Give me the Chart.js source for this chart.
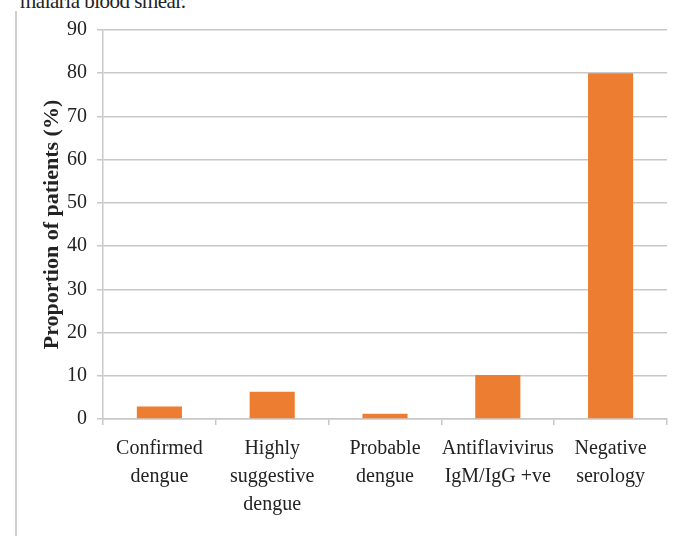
<!DOCTYPE html>
<html>
<head>
<meta charset="utf-8">
<script src="https://cdn.jsdelivr.net/npm/chart.js@4.4.0/dist/chart.umd.min.js"></script>
<style>
  html, body { margin: 0; padding: 0; background: #fff; }
  #wrap { position: relative; width: 683px; height: 536px; overflow: hidden; }
  #caption { position: absolute; left: 20px; top: -11px; font: 21px "Liberation Serif", serif; color: #222; white-space: nowrap; letter-spacing: -0.5px; }
  #edge { position: absolute; left: 15px; top: 11px; width: 0; height: 530px; border-left: 2px solid #d0d0d0; }
  canvas { position: absolute; left: 0; top: 0; }
</style>
</head>
<body>
<div id="wrap">
  <div id="caption">malaria blood smear.</div>
  <div id="edge"></div>
  <canvas id="myChart" width="683" height="536"></canvas>
</div>
<script>
const categories = [
  ['Confirmed', 'dengue'],
  ['Highly', 'suggestive', 'dengue'],
  ['Probable', 'dengue'],
  ['Antiflavivirus', 'IgM/IgG +ve'],
  ['Negative', 'serology']
];
const proportions = [2.9, 6.3, 1.2, 10.2, 80];
const yTicks = [0, 10, 20, 30, 40, 50, 60, 70, 80, 90];

const ctx = document.getElementById('myChart');
new Chart(ctx, {
  type: 'bar',
  data: {
    labels: categories,
    datasets: [{
      data: proportions,
      backgroundColor: '#ED7D31',
      categoryPercentage: 1,
      barPercentage: 0.4
    }]
  },
  options: {
    responsive: false,
    animation: false,
    layout: { padding: { left: 20, right: 16, top: 30, bottom: 0 } },
    plugins: { legend: { display: false }, tooltip: { enabled: false } },
    scales: {
      x: {
        afterFit: function(scale) { scale.height = 117; },
        grid: { offset: true, drawOnChartArea: false, tickLength: 6, color: '#c8c8c8', lineWidth: 1.5 },
        border: { color: '#c8c8c8', width: 1.5 },
        ticks: {
          color: '#222', padding: 10,
          font: { family: 'Liberation Serif', size: 20, lineHeight: 1.4 },
          maxRotation: 0, autoSkip: false
        }
      },
      y: {
        min: 0, max: 90,
        afterFit: function(scale) { scale.width = 83; },
        afterBuildTicks: function(scale) { scale.ticks = yTicks.map(v => ({ value: v })); },
        grid: { color: '#c8c8c8', lineWidth: 1.5, tickLength: 6 },
        border: { color: '#c8c8c8', width: 1.5 },
        ticks: {
          color: '#222', padding: 10,
          font: { family: 'Liberation Serif', size: 20 }
        },
        title: {
          display: true,
          text: 'Proportion of patients (%)',
          color: '#222',
          padding: { top: 19, bottom: 0 },
          font: { family: 'Liberation Serif', size: 22, weight: 'bold' }
        }
      }
    }
  }
});
</script>
</body>
</html>
